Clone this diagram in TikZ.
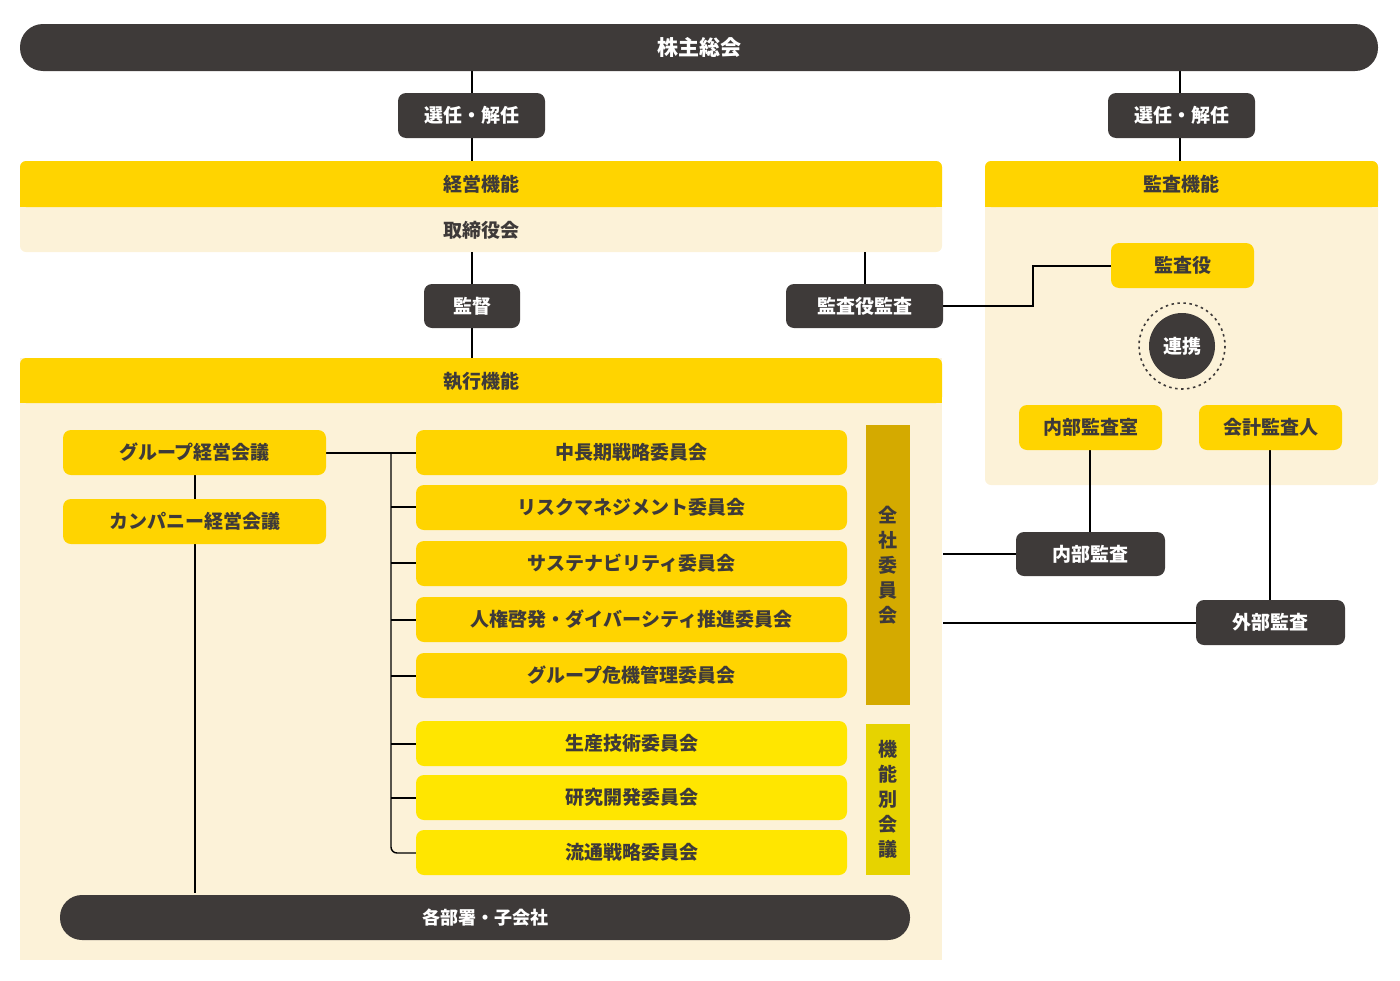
\documentclass[tikz,border=0pt]{standalone}
\usepackage{fontspec}
\setmainfont{Noto Sans CJK JP}
\definecolor{dk}{HTML}{3E3A39}
\definecolor{yl}{HTML}{FFD400}
\definecolor{yl2}{HTML}{FFE600}
\definecolor{cr}{HTML}{FCF2D8}
\definecolor{gd}{HTML}{D4AA00}
\definecolor{gd2}{HTML}{E6D300}
\begin{document}
\begin{tikzpicture}[x=1pt,y=-1pt,
 txt/.style={font=\fontsize{19}{22}\selectfont\bfseries},
 dbox/.style={fill=dk,rounded corners=8pt,text=white,txt},
 ybox/.style={fill=yl,rounded corners=8pt,text=dk,txt},
 y2box/.style={fill=yl2,rounded corners=8pt,text=dk,txt},
 ln/.style={draw=black,line width=1.4pt}]
\useasboundingbox (0,0) rectangle (1400,980);
% backgrounds
\fill[cr,rounded corners=6pt] (20,161) rectangle (942,252);
\fill[yl,rounded corners=6pt] (20,161) rectangle (942,207);
\fill[yl] (20,195) rectangle (942,207);
\node[txt,text=dk] (keiei) at (481,184) {経営機能};
\node[txt,text=dk] (torishi) at (481,230) {取締役会};
\fill[cr,rounded corners=6pt] (985,161) rectangle (1378,485);
\fill[yl,rounded corners=6pt] (985,161) rectangle (1378,207);
\fill[yl] (985,195) rectangle (1378,207);
\node[txt,text=dk] (kansa) at (1181,184) {監査機能};
\fill[cr] (20,358) rectangle (942,960);
\fill[yl,rounded corners=6pt] (20,358) rectangle (942,403);
\fill[yl] (20,390) rectangle (942,403);
\node[txt,text=dk] (shikko) at (481,381) {執行機能};
% lines
\draw[ln] (472,71) -- (472,161);
\draw[ln] (1180,71) -- (1180,161);
\draw[ln] (472,252) -- (472,358);
\draw[ln] (865,252) -- (865,284);
\draw[ln] (943,306) -- (1033,306) -- (1033,266) -- (1111,266);
\draw[ln] (1090,450) -- (1090,532);
\draw[ln] (943,554) -- (1016,554);
\draw[ln] (1270,450) -- (1270,600);
\draw[ln] (943,623) -- (1196,623);
\draw[ln] (195,475) -- (195,893);
\draw[ln] (326,453) -- (416,453);
\draw[ln,rounded corners=6pt] (391,453) -- (391,853) -- (416,853);
\foreach \yy in {507,563,620,676,744,798} \draw[ln] (391,\yy) -- (416,\yy);
% top
\node[dbox,rounded corners=23pt,minimum width=1358pt,minimum height=47pt,font=\fontsize{21}{24}\selectfont\bfseries] (soukai) at (699,47.5) {株主総会};
\node[dbox,minimum width=147pt,minimum height=45pt] (sen1) at (471.5,115.5) {選任・解任};
\node[dbox,minimum width=147pt,minimum height=45pt] (sen2) at (1181.5,115.5) {選任・解任};
\node[dbox,minimum width=96pt,minimum height=44pt] (kantoku) at (472,306) {監督};
\node[dbox,minimum width=157pt,minimum height=44pt] (kyk) at (864.5,306) {監査役監査};
\node[ybox,minimum width=143pt,minimum height=45pt] (kansayaku) at (1182.5,265.5) {監査役};
\draw[dk,line width=1.6pt,dash pattern=on 2.5pt off 3.5pt] (1182,346) circle (43);
\node[circle,fill=dk,minimum size=66pt,inner sep=0pt,text=white,txt] (renkei) at (1182,346) {連携};
\node[ybox,minimum width=143pt,minimum height=45pt] (naibushitsu) at (1090.5,427.5) {内部監査室};
\node[ybox,minimum width=143pt,minimum height=45pt] (kaikei) at (1270.5,427.5) {会計監査人};
\node[dbox,minimum width=149pt,minimum height=44pt] (naibu) at (1090.5,554) {内部監査};
\node[dbox,minimum width=149pt,minimum height=45pt] (gaibu) at (1270.5,622.5) {外部監査};
% executive
\node[ybox,minimum width=263pt,minimum height=45pt] (grp) at (194.5,452.5) {グループ経営会議};
\node[ybox,minimum width=263pt,minimum height=45pt] (cmp) at (194.5,521.5) {カンパニー経営会議};
\node[ybox,minimum width=431pt,minimum height=45pt] (c1) at (631.5,452.5) {中長期戦略委員会};
\node[ybox,minimum width=431pt,minimum height=45pt] (c2) at (631.5,507.5) {リスクマネジメント委員会};
\node[ybox,minimum width=431pt,minimum height=45pt] (c3) at (631.5,563.5) {サステナビリティ委員会};
\node[ybox,minimum width=431pt,minimum height=45pt] (c4) at (631.5,619.5) {人権啓発・ダイバーシティ推進委員会};
\node[ybox,minimum width=431pt,minimum height=45pt] (c5) at (631.5,675.5) {グループ危機管理委員会};
\node[y2box,minimum width=431pt,minimum height=45pt] (c6) at (631.5,743.5) {生産技術委員会};
\node[y2box,minimum width=431pt,minimum height=45pt] (c7) at (631.5,797.5) {研究開発委員会};
\node[y2box,minimum width=431pt,minimum height=45pt] (c8) at (631.5,852.5) {流通戦略委員会};
\node[fill=gd,minimum width=44pt,minimum height=280pt,text=dk,txt,align=center,font=\fontsize{19}{25}\selectfont\bfseries] (zensha) at (888,565) {全\\社\\委\\員\\会};
\node[fill=gd2,minimum width=44pt,minimum height=151pt,text=dk,txt,align=center,font=\fontsize{19}{25}\selectfont\bfseries] (kinou) at (888,799.5) {機\\能\\別\\会\\議};
\node[dbox,rounded corners=22pt,minimum width=850pt,minimum height=45pt,font=\fontsize{18}{22}\selectfont\bfseries] (bu) at (485,917.5) {各部署・子会社};
\end{tikzpicture}
\end{document}
